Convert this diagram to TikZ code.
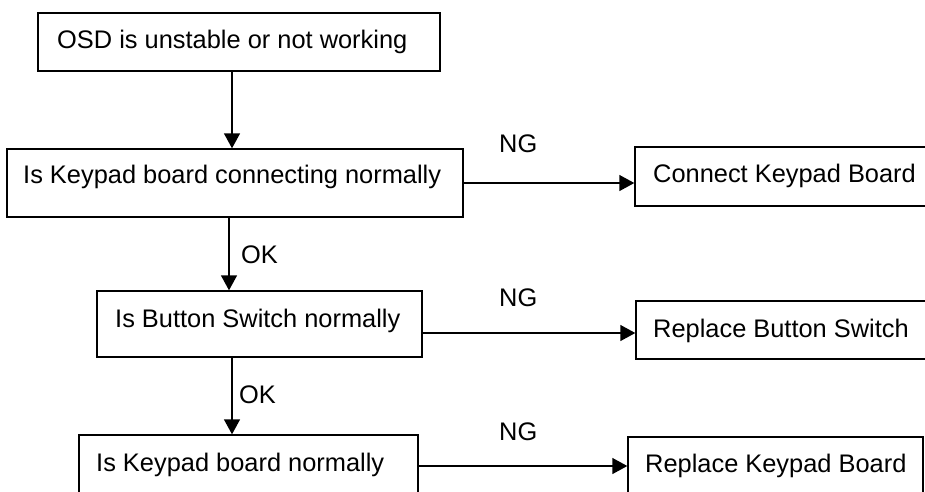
\documentclass[tikz,border=0pt]{standalone}
\usepackage{fontspec}
\setmainfont{Liberation Sans}
\usetikzlibrary{arrows.meta, calc, math}

\tikzset{
  box/.style={draw, line width=1.4pt, inner sep=0pt},
  txt/.style={inner sep=0pt, anchor=base west, font=\fontsize{25.4}{30}\selectfont},
  flow/.style={line width=1.4pt, -{Triangle[length=15pt,width=16pt]}},
}

\begin{document}
\begin{tikzpicture}[x=1pt, y=-1pt]
\tikzmath{
\cA=232;%arrow columns
\cB=229;
\cC=232;
}
\useasboundingbox (0,0) rectangle (925,491);
\clip (0,0) rectangle (925,491);

\coordinate (c1) at (\cA,0);
\coordinate (c2) at (\cB,0);
\coordinate (c3) at (\cC,0);
\coordinate (r2) at (0,333);
\coordinate (r3) at (0,466);

%left column
\node[box, minimum width=402pt, minimum height=58pt] (osd) at (239,42) {};
\node[box, minimum width=456pt, minimum height=68pt] (kpc) at (235,183) {};
\node[box, minimum width=325pt, minimum height=66pt] (btn) at (259.5,324) {};
\node[box, minimum width=339pt, minimum height=80pt] (kpn) at (248.5,475) {};
%right column
\node[box, minimum width=305pt, minimum height=59pt] (conn) at (787.5,176.5) {};
\node[box, minimum width=304pt, minimum height=58pt] (rbtn) at (788,330) {};
\node[box, minimum width=295pt, minimum height=76pt] (rkp) at (775.5,475) {};

\node[txt] (osdt) at (57,48) {OSD is unstable or not working};
\node[txt] (kpct) at (23,183) {Is Keypad board connecting normally};
\node[txt] (btnt) at (115,327) {Is Button Switch normally};
\node[txt] (kpnt) at (96,471) {Is Keypad board normally};
\node[txt] (connt) at (653,182) {Connect Keypad Board};
\node[txt] (rbtnt) at (653,337) {Replace Button Switch};
\node[txt] (rkpt) at (645,472) {Replace Keypad Board};

\node[txt] (ng1) at (499,152) {NG};
\node[txt] (ng2) at (499,306) {NG};
\node[txt] (ng3) at (499,440) {NG};
\node[txt] (ok1) at (241,263) {OK};
\node[txt] (ok2) at (239,403) {OK};

\draw[flow] (osd.south -| c1) -- (kpc.north -| c1);
\draw[flow] (kpc.south -| c2) -- (btn.north -| c2);
\draw[flow] (btn.south -| c3) -- (kpn.north -| c3);
\draw[flow] (kpc.east) -- (kpc.east -| conn.west);
\draw[flow] (btn.east |- r2) -- (rbtn.west |- r2);
\draw[flow] (kpn.east |- r3) -- (rkp.west |- r3);
\end{tikzpicture}
\end{document}
